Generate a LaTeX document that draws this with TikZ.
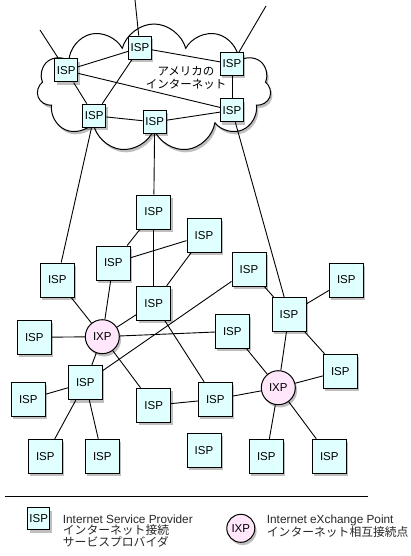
\documentclass[tikz,border=0pt]{standalone}
\usepackage{fontspec}
\setmainfont{Liberation Sans}
\newfontfamily\jpfont{Noto Sans CJK JP}
\usetikzlibrary{shapes.symbols, shadows, backgrounds}
\definecolor{ispfill}{RGB}{224,255,255}
\definecolor{ixpfill}{RGB}{255,230,250}
\tikzset{
  soft shadow/.style={
    drop shadow={shadow xshift=1.8pt, shadow yshift=-2.8pt,
      opacity=0.25, fill=black},
  },
  isp node/.style={
    draw,
    line width=1pt,
    fill=ispfill,
    soft shadow,
    inner sep=0pt,
    minimum size=34pt,
    font=\fontsize{11.5}{13}\selectfont,
  },
  us node/.style={
    isp node,
    minimum size=23pt,
  },
  ixp node/.style={
    circle,
    draw,
    line width=1pt,
    fill=ixpfill,
    soft shadow,
    inner sep=0pt,
    minimum size=34pt,
    font=\fontsize{11.5}{13}\selectfont,
  },
  net/.style={
    line width=0.9pt,
  },
  legend text/.style={
    anchor=west,
    align=left,
    inner sep=0pt,
    font=\fontsize{11.8}{11.6}\selectfont,
    text=black!85,
  },
}

\begin{document}
\begin{tikzpicture}[x=1pt, y=-1pt]
        \useasboundingbox (0,0) rectangle (411,556);

        % the american internet
        \begin{scope}[on background layer]
          \node[cloud, cloud puffs=11, cloud puff arc=150, aspect=1.9, draw, line width=1pt, fill=white,
                soft shadow, minimum width=234pt, minimum height=128pt] (usa) at (154,88) {};
        \end{scope}
        \node[align=center, font=\jpfont\fontsize{11.5}{12.5}\selectfont] (usalabel) at (186,78) {アメリカの\\インターネット};

        \node[us node] (us1) at ( 66.2, 70.5) {ISP};
        \node[us node] (us2) at (140.0, 47.7) {ISP};
        \node[us node] (us3) at (232.0, 64.0) {ISP};
        \node[us node] (us4) at (232.0,110.3) {ISP};
        \node[us node] (us5) at ( 94.2,115.7) {ISP};
        \node[us node] (us6) at (154.7,122.0) {ISP};

        \coordinate (out1) at ( 40, 30);
        \coordinate (out2) at (135,  0);
        \coordinate (out3) at (266,  6);

        % providers
        \node[isp node] (pa) at (153.7,212.0) {ISP};
        \node[isp node] (pb) at (204.0,235.3) {ISP};
        \node[isp node] (pc) at (113.3,263.0) {ISP};
        \node[isp node] (pd) at ( 57.3,280.0) {ISP};
        \node[isp node] (pe) at (249.0,269.3) {ISP};
        \node[isp node] (pf) at (346.3,280.0) {ISP};
        \node[isp node] (pg) at (153.7,303.3) {ISP};
        \node[isp node] (ph) at (289.0,314.3) {ISP};
        \node[isp node] (pi) at ( 34.3,337.3) {ISP};
        \node[isp node] (pj) at (232.3,331.3) {ISP};
        \node[isp node] (pk) at (340.3,371.3) {ISP};
        \node[isp node] (pl) at ( 85.3,382.7) {ISP};
        \node[isp node] (pm) at ( 28.3,399.3) {ISP};
        \node[isp node] (pn) at (153.7,405.3) {ISP};
        \node[isp node] (po) at (215.3,399.3) {ISP};
        \node[isp node] (pp) at ( 45.3,456.3) {ISP};
        \node[isp node] (pq) at (102.3,456.3) {ISP};
        \node[isp node] (pr) at (204.0,450.3) {ISP};
        \node[isp node] (ps) at (266.3,456.3) {ISP};
        \node[isp node] (pt) at (329.3,456.3) {ISP};

        % exchange points
        \node[ixp node] (x1) at (102.3,336.7) {IXP};
        \node[ixp node] (x2) at (278.3,387.7) {IXP};

        \begin{scope}[on background layer]
          \path[net] (us1) edge (out1);
          \path[net] (us2) edge (out2);
          \path[net] (us3) edge (out3);
          \path[net] (us1) edge (us2);
          \path[net] (us2) edge (us3);
          \path[net] (us1) edge (us4);
          \path[net] (us1) edge (us5);
          \path[net] (us2) edge (us5);
          \path[net] (us3) edge (us4);
          \path[net] (us5) edge (us6);
          \path[net] (us6) edge (us4);

          \path[net] (us5) edge (pd);
          \path[net] (us6) edge (pa);
          \path[net] (us4) edge (ph);

          \path[net] (pa) edge (pc);
          \path[net] (pa) edge (pg);
          \path[net] (pb) edge (pc);
          \path[net] (pb) edge (pg);
          \path[net] (pd) edge (x1);
          \path[net] (pc) edge (x1);
          \path[net] (pg) edge (x1);
          \path[net] (pi) edge (x1);
          \path[net] (x1) edge (pj);
          \path[net] (x1) edge (pl);
          \path[net] (x1) edge (pn);
          \path[net] (pe) edge (pl);
          \path[net] (pe) edge (ph);
          \path[net] (ph) edge (pf);
          \path[net] (ph) edge (pk);
          \path[net] (ph) edge (x2);
          \path[net] (pg) edge (po);
          \path[net] (pj) edge (x2);
          \path[net] (pk) edge (x2);
          \path[net] (po) edge (x2);
          \path[net] (x2) edge (ps);
          \path[net] (x2) edge (pt);
          \path[net] (pl) edge (pm);
          \path[net] (pl) edge (pp);
          \path[net] (pl) edge (pq);
          \path[net] (pn) edge (po);
        \end{scope}

        % legend
        \coordinate (rule west) at (5,496);
        \coordinate (rule east) at (368,496);
        \draw[line width=0.9pt] (rule west) -- (rule east);

        \node[isp node, minimum size=22pt] (ispkey) at (38.7,518.8) {ISP};
        \node[legend text] (isptext) at (62.7,531) {Internet Service Provider\\{\jpfont インターネット接続}\\{\jpfont サービスプロバイダ}};

        \node[ixp node, minimum size=28pt] (ixpkey) at (240.8,528.3) {IXP};
        \node[legend text] (ixptext) at (266.7,526.5) {Internet eXchange Point\\{\jpfont インターネット相互接続点}};
\end{tikzpicture}
\end{document}
